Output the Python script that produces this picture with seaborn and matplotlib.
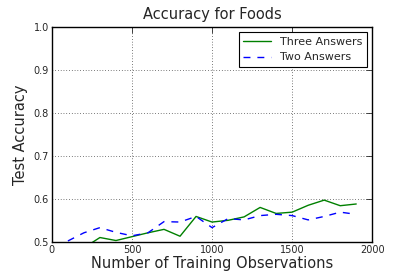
import numpy as np
import pandas as pd
import matplotlib
matplotlib.use("Agg")
import matplotlib.pyplot as plt
import seaborn as sns

# ── DATA ─────────────────────────────────────
observations = [100, 200, 300, 400, 500, 600, 700, 800, 900, 1000,
                1100, 1200, 1300, 1400, 1500, 1600, 1700, 1800, 1900]
three_answers = [0.475, 0.486, 0.510, 0.503, 0.512, 0.521, 0.529, 0.513, 0.559, 0.546,
                 0.550, 0.558, 0.580, 0.566, 0.569, 0.585, 0.597, 0.584, 0.588]
two_answers = [0.502, 0.521, 0.533, 0.522, 0.514, 0.521, 0.547, 0.546, 0.559, 0.533,
               0.554, 0.551, 0.561, 0.564, 0.561, 0.551, 0.559, 0.569, 0.564]

df = pd.DataFrame({
    'obs': observations * 2,
    'acc': three_answers + two_answers,
    'series': ['Three Answers'] * len(observations) + ['Two Answers'] * len(observations),
})

# ── STYLE (old matplotlib look) ──────────────
sns.set_style("white")
plt.rcParams['font.family'] = ['DejaVu Sans']
plt.rcParams['xtick.direction'] = 'in'
plt.rcParams['ytick.direction'] = 'in'

fig, ax = plt.subplots(figsize=(4.15, 2.77), dpi=100)
fig.subplots_adjust(left=0.125, right=0.897, top=0.903, bottom=0.127)

sns.lineplot(data=df, x='obs', y='acc', hue='series', style='series',
             palette={'Three Answers': '#008000', 'Two Answers': '#0000ff'},
             dashes={'Three Answers': '', 'Two Answers': (5, 5)},
             linewidth=1.0, ax=ax)

ax.set_xlim(0, 2000)
ax.set_ylim(0.5, 1.0)
ax.set_xticks([0, 500, 1000, 1500, 2000])
ax.set_yticks([0.5, 0.6, 0.7, 0.8, 0.9, 1.0])
ax.tick_params(labelsize=7, top=True, right=True, length=4, width=0.6, pad=2)
ax.grid(True, color='black', linestyle=(0, (1, 3)), linewidth=0.5)
for sp in ax.spines.values():
    sp.set_color('black')
    sp.set_linewidth(1.0)

ax.set_title('Accuracy for Foods', fontsize=10.5)
ax.set_xlabel('Number of Training Observations', fontsize=10.5, labelpad=1)
ax.set_ylabel('Test Accuracy', fontsize=10.5)

leg = ax.legend(loc='upper right', fontsize=8, fancybox=False, framealpha=1,
                edgecolor='black', handlelength=2.5)
leg.get_frame().set_linewidth(0.8)

plt.savefig('out.png', dpi=100)
